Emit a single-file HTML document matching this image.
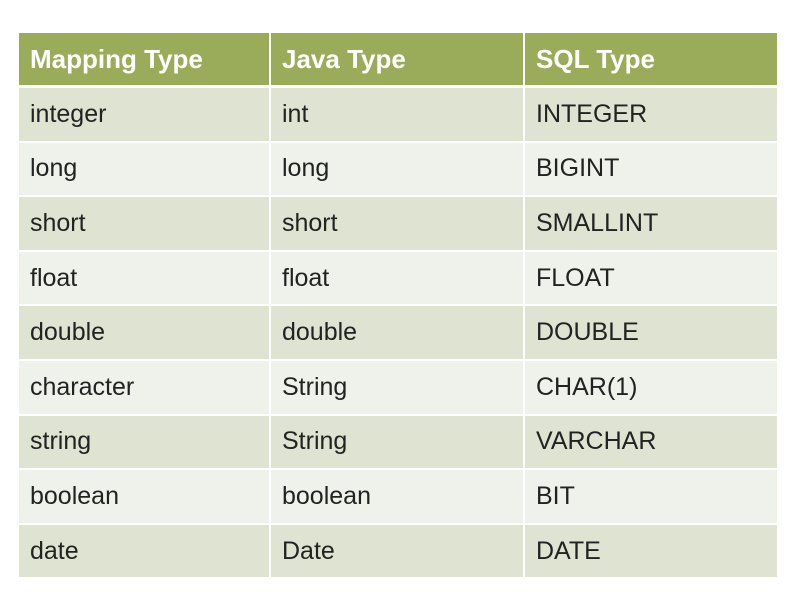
<!DOCTYPE html>
<html><head><meta charset="utf-8"><style>
body{margin:0;width:801px;height:599px;background:#fff;position:relative;overflow:hidden;font-family:"Liberation Sans",sans-serif}
.c{position:absolute;box-sizing:border-box;padding-left:11px;display:flex;align-items:center;font-size:25px;color:#222;border-right:2px solid #fff;border-bottom:2px solid #fff}
.h{background:#9aac5a;color:#fff;font-weight:bold;font-size:26px;border-bottom:3px solid #fff}
.o{background:#dfe4d2}.e{background:#eff2ea}
</style></head><body>
<div id="t"></div>
<script>
const headers=["Mapping Type","Java Type","SQL Type"];
const rows=[["integer","int","INTEGER"],["long","long","BIGINT"],["short","short","SMALLINT"],["float","float","FLOAT"],["double","double","DOUBLE"],["character","String","CHAR(1)"],["string","String","VARCHAR"],["boolean","boolean","BIT"],["date","Date","DATE"]];
const xs=[19,271,525,779],top0=33,hh=55,rh=54.6;
const t=document.getElementById('t');
function cell(txt,cls,x0,x1,y,h,name){const d=document.createElement('div');d.className='c '+cls;d.style.left=x0+'px';d.style.width=(x1-x0)+'px';d.style.top=y+'px';d.style.height=h+'px';d.textContent=txt;


t.appendChild(d);}
headers.forEach((h,i)=>cell(h,'h',xs[i],xs[i+1],top0,hh,'header-'+h.toLowerCase().replace(/ /g,'-')));
rows.forEach((r,j)=>r.forEach((v,i)=>cell(v,j%2?'e':'o',xs[i],xs[i+1],top0+hh+j*rh,rh,'cell-'+r[0]+'-'+i)));
</script>
</body></html>
